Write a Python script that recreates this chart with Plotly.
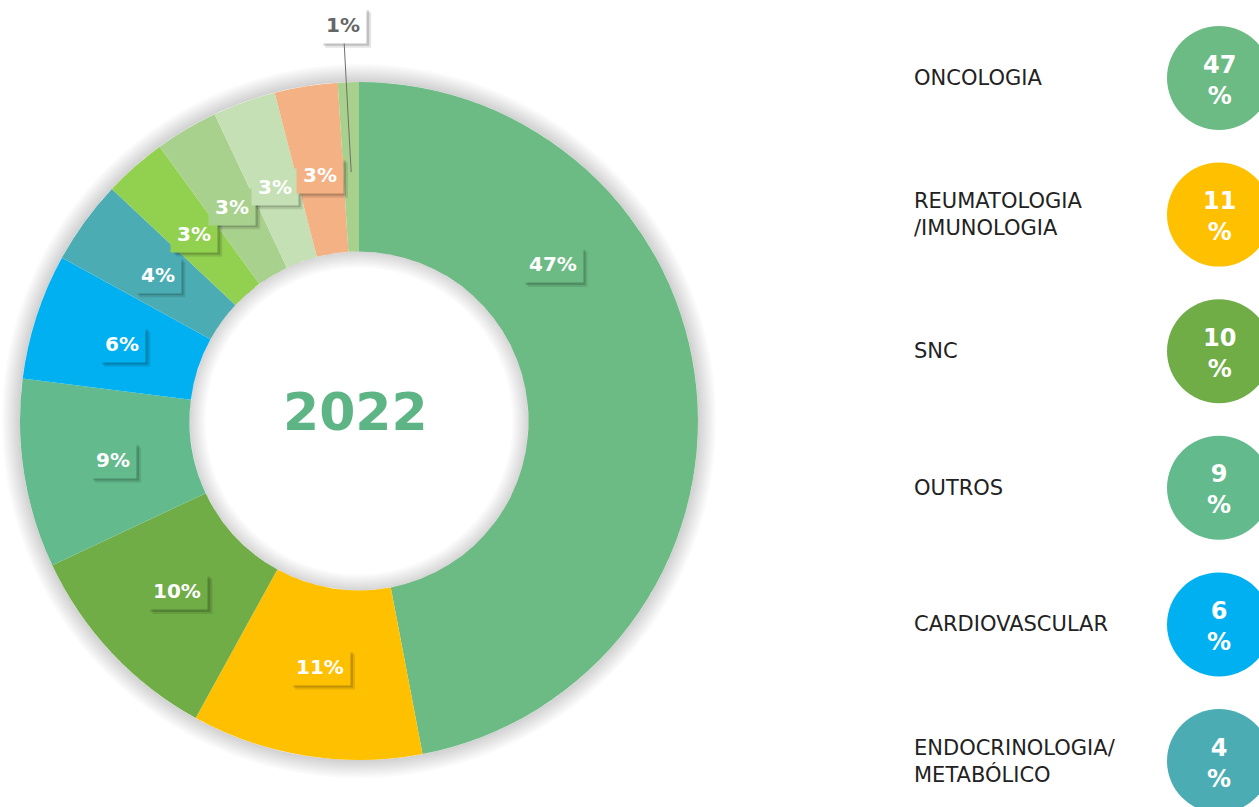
import math
import plotly.graph_objects as go

# ---------------- data ----------------
categories = ["ONCOLOGIA", "REUMATOLOGIA/IMUNOLOGIA", "SNC", "OUTROS", "CARDIOVASCULAR",
              "ENDOCRINOLOGIA/METABÓLICO", "CATEGORIA 7", "CATEGORIA 8", "CATEGORIA 9",
              "CATEGORIA 10", "CATEGORIA 11"]
values = [47, 11, 10, 9, 6, 4, 3, 3, 3, 3, 1]
legend_labels = ["ONCOLOGIA", "REUMATOLOGIA<br>/IMUNOLOGIA", "SNC", "OUTROS",
                 "CARDIOVASCULAR", "ENDOCRINOLOGIA/<br>METABÓLICO"]
center_text = "2022"

# ---------------- style ----------------
colors = ["#6DBB84", "#FFC000", "#70AD47", "#62BA8D", "#00B0F0", "#4BADB3",
          "#92D050", "#A9D18E", "#C5E0B4", "#F4B183", "#A9D18E"]
W, H = 1259, 807
CX, CY = 359, 421
R_OUT = 339
HOLE = 0.5
R_IN = R_OUT * HOLE
R_LBL = 249
LABEL_ANGLE_OVERRIDE = {0: 51}   # first label was moved up in the original
FONT = "DejaVu Sans"
LBL_SIZE = 20
LBL_PAD = 6
LEG_X_TEXT = 912
LEG_X_CIRCLE = 1219
LEG_Y0 = 78
LEG_STEP = 136.6
# approximate DejaVu Sans Bold advance widths (em) for shadow boxes
CHAR_EM = {"%": 1.002}
DIGIT_EM = 0.696


def text_box(txt, size, pad):
    w = sum(CHAR_EM.get(ch, DIGIT_EM) for ch in txt) * size + 2 * pad
    h = 1.164 * size + 2 * pad
    return w, h


fig = go.Figure()

fig.add_trace(go.Pie(
    values=values, labels=categories, sort=False, direction="clockwise", rotation=0,
    hole=HOLE, textinfo="none", showlegend=False,
    marker=dict(colors=colors, line=dict(width=0)),
    domain=dict(x=[(CX - R_OUT) / W, (CX + R_OUT) / W],
                y=[1 - (CY + R_OUT) / H, 1 - (CY - R_OUT) / H]),
    hovertemplate="%{label}: %{percent}<extra></extra>",
))

# legend circles on the right
n_leg = len(legend_labels)
leg_y = [LEG_Y0 + i * LEG_STEP for i in range(n_leg)]
fig.add_trace(go.Scatter(
    x=[LEG_X_CIRCLE] * n_leg, y=leg_y, mode="markers",
    marker=dict(size=104, color=colors[:n_leg], line=dict(width=0)),
    showlegend=False, hoverinfo="skip",
))

annotations = [dict(
    x=CX - 4, y=CY - 9, xref="x", yref="y", text=center_text, showarrow=False,
    xanchor="center", yanchor="middle",
    font=dict(family=FONT, size=52, color="#5DB585", weight="bold"))]
shapes = []
for i, lab in enumerate(legend_labels):
    annotations.append(dict(
        x=LEG_X_TEXT, y=leg_y[i], xref="x", yref="y", text=lab, showarrow=False,
        xanchor="left", yanchor="middle", align="left",
        font=dict(family=FONT, size=21, color="#222222")))
    annotations.append(dict(
        x=LEG_X_CIRCLE, y=leg_y[i], xref="x", yref="y", text=f"{values[i]}<br>%",
        showarrow=False, xanchor="center", yanchor="middle", yshift=-2,
        font=dict(family=FONT, size=24, color="white", weight="bold")))

# slice labels
total = sum(values)
cum = 0
for i, (v, c) in enumerate(zip(values, colors)):
    a = 360 * (cum + v / 2) / total
    cum += v
    a = LABEL_ANGLE_OVERRIDE.get(i, a)
    x = CX + R_LBL * math.sin(math.radians(a))
    y = CY - R_LBL * math.cos(math.radians(a))
    txt = f"{v}%"
    bw, bh = text_box(txt, LBL_SIZE, LBL_PAD)
    if v >= 2:
        bx, by = x, y
    else:
        bx, by = x - 8, 25
    for d, alpha in ((5, 0.10), (3, 0.16)):
        shapes.append(dict(type="rect", xref="x", yref="y", layer="above",
                           x0=bx - bw / 2 + d, x1=bx + bw / 2 + d,
                           y0=by - bh / 2 + d, y1=by + bh / 2 + d,
                           fillcolor=f"rgba(0,0,0,{alpha})", line=dict(width=0)))
    if v >= 2:
        annotations.append(dict(
            x=x, y=y, xref="x", yref="y", text=txt, showarrow=False,
            bgcolor=c, borderpad=LBL_PAD,
            font=dict(family=FONT, size=LBL_SIZE, color="white", weight="bold")))
    else:
        annotations.append(dict(
            x=x, y=y, xref="x", yref="y", text=txt, showarrow=True,
            ax=bx - x, ay=by - y, arrowcolor="#6E6E6E", arrowwidth=1, arrowhead=0,
            bgcolor="white", borderpad=LBL_PAD,
            font=dict(family=FONT, size=LBL_SIZE, color="#666666", weight="bold")))

# soft shadows around the ring
for w in range(2, 20, 2):
    r = R_OUT + w / 2
    shapes.append(dict(type="circle", xref="x", yref="y", layer="below",
                       x0=CX - r, x1=CX + r, y0=CY - r, y1=CY + r,
                       line=dict(color="rgba(0,0,0,0.018)", width=w)))
for w in range(2, 18, 2):
    r = R_IN - w / 2
    shapes.append(dict(type="circle", xref="x", yref="y", layer="above",
                       x0=CX - r, x1=CX + r, y0=CY - r, y1=CY + r,
                       line=dict(color="rgba(0,0,0,0.02)", width=w)))

fig.update_layout(
    width=W, height=H, margin=dict(l=0, r=0, t=0, b=0),
    paper_bgcolor="white", plot_bgcolor="rgba(0,0,0,0)",
    xaxis=dict(range=[0, W], visible=False, fixedrange=True),
    yaxis=dict(range=[H, 0], visible=False, fixedrange=True),
    annotations=annotations, shapes=shapes,
)

fig.write_html("out.html", config={"displayModeBar": False},
               post_script="document.body.style.margin='0px';")
